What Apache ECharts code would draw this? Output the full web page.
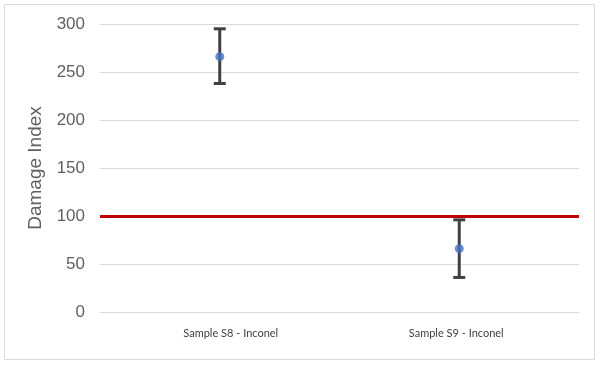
<!DOCTYPE html>
<html><head><meta charset="utf-8">
<script src="https://cdn.jsdelivr.net/npm/echarts@6/dist/echarts.min.js"></script>
<style>html,body{margin:0;padding:0;background:#fff}#c{width:600px;height:365px}</style>
</head><body><div id="c"></div>
<script>
const categories = ['Sample S8 - Inconel', 'Sample S9 - Inconel'];
const meanValues = [266, 66];
const lowerValues = [238, 36];
const upperValues = [295, 96];
const threshold = 100;
const yTicks = [0, 50, 100, 150, 200, 250, 300];

const chart = echarts.init(document.getElementById('c'));
const errData = categories.map((c, i) => [i, lowerValues[i], upperValues[i]]);
const labelPads = [[0, 0, 0, 22], [0, 6, 0, 0]];
chart.setOption({
  animation: false,
  graphic: [{type: 'rect', shape: {x: 4.5, y: 4.5, width: 590, height: 355}, style: {fill: 'none', stroke: '#d9d9d9', lineWidth: 1}, z: -1}],
  grid: {left: 100, right: 21, top: 24, bottom: 53},
  xAxis: {
    type: 'category',
    data: categories.map((c, i) => ({value: c, textStyle: {padding: labelPads[i]}})),
    axisLine: {show: true, lineStyle: {color: '#d9d9d9', width: 1}},
    axisTick: {show: false},
    axisLabel: {fontFamily: 'Lato', fontSize: 11, color: '#404040', margin: 16},
    splitLine: {show: false}
  },
  yAxis: {
    type: 'value', min: yTicks[0], max: yTicks[yTicks.length - 1], interval: 50,
    name: 'Damage Index', nameLocation: 'middle', nameGap: 55,
    nameTextStyle: {fontFamily: 'Liberation Sans', fontSize: 19, color: '#606060', padding: [0, 0, 0, 0]},
    axisLine: {show: false}, axisTick: {show: false},
    axisLabel: {fontFamily: 'Liberation Sans', fontSize: 17, color: '#606060', margin: 15},
    splitLine: {lineStyle: {color: '#d9d9d9', width: 1}}
  },
  series: [
    {
      type: 'custom', data: errData, z: 3,
      renderItem: function (params, api) {
        const x = api.coord([api.value(0), api.value(1)]);
        const top = api.coord([api.value(0), api.value(2)]);
        const hw = 6;
        const st = {stroke: '#404040', lineWidth: 3};
        return {type: 'group', children: [
          {type: 'line', shape: {x1: x[0], y1: x[1], x2: top[0], y2: top[1]}, style: st},
          {type: 'line', shape: {x1: x[0] - hw, y1: x[1], x2: x[0] + hw, y2: x[1]}, style: st},
          {type: 'line', shape: {x1: top[0] - hw, y1: top[1], x2: top[0] + hw, y2: top[1]}, style: st}
        ]};
      }
    },
    {
      type: 'scatter', data: meanValues, symbol: 'circle', symbolSize: 9, z: 4,
      itemStyle: {color: '#4472C4'},
      markLine: {
        silent: true, symbol: 'none', label: {show: false},
        lineStyle: {color: '#C00000', width: 3, type: 'solid'},
        data: [{yAxis: threshold}]
      }
    }
  ]
});
</script></body></html>
